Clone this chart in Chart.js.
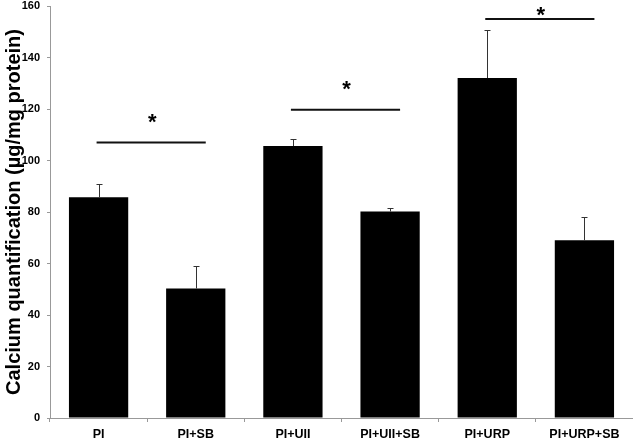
<!DOCTYPE html>
<html>
<head>
<meta charset="utf-8">
<script src="https://cdn.jsdelivr.net/npm/chart.js@4"></script>
<style>
  html, body { margin: 0; padding: 0; background: #fff; }
  #wrap { width: 633px; height: 440px; }
</style>
</head>
<body>
<div id="wrap"><canvas id="c"></canvas></div>
<script>
// ---- data ----
const categories = ['PI', 'PI+SB', 'PI+UII', 'PI+UII+SB', 'PI+URP', 'PI+URP+SB'];
const means      = [85.7, 50.3, 105.6, 80.2, 132.0, 69.0];
const errors     = [5.0, 8.7, 2.9, 1.2, 18.8, 9.0];
const yTicks     = [0, 20, 40, 60, 80, 100, 120, 140, 160];
const sigFrom    = [0, 2, 4];
const sigTo      = [1, 3, 5];
const sigLevel   = [107, 119.7, 155];
const sigMark    = ['*', '*', '*'];
const yTitle     = 'Calcium quantification (µg/mg protein)';

const FONT = '"Liberation Sans", Arial, sans-serif';

const errorBars = {
  id: 'errorBars',
  afterDatasetsDraw(chart) {
    const ctx = chart.ctx;
    const meta = chart.getDatasetMeta(0);
    const y = chart.scales.y;
    ctx.save();
    ctx.strokeStyle = '#333';
    ctx.lineWidth = 1;
    meta.data.forEach((bar, i) => {
      const x = Math.round(bar.x) + 0.5;
      const yTop = Math.round(y.getPixelForValue(means[i] + errors[i])) + 0.5;
      const yBase = y.getPixelForValue(means[i]);
      ctx.beginPath();
      ctx.moveTo(x, yBase);
      ctx.lineTo(x, yTop);
      ctx.moveTo(x - 3, yTop);
      ctx.lineTo(x + 3, yTop);
      ctx.stroke();
    });
    ctx.restore();
  }
};

const significance = {
  id: 'significance',
  afterDatasetsDraw(chart) {
    const ctx = chart.ctx;
    const xs = chart.scales.x, ys = chart.scales.y;
    ctx.save();
    ctx.strokeStyle = '#111';
    ctx.lineWidth = 2;
    ctx.fillStyle = '#000';
    ctx.font = 'bold 22px ' + FONT;
    ctx.textAlign = 'center';
    ctx.textBaseline = 'middle';
    sigFrom.forEach((a, k) => {
      const x0 = xs.getPixelForValue(a) - 2;
      const x1 = xs.getPixelForValue(sigTo[k]) + 10;
      const yy = ys.getPixelForValue(sigLevel[k]);
      ctx.beginPath();
      ctx.moveTo(x0, yy);
      ctx.lineTo(x1, yy);
      ctx.stroke();
      const ty = Math.max(yy - 24, 12);
      ctx.fillText(sigMark[k], (x0 + x1) / 2 + 1, ty + 4);
    });
    ctx.restore();
  }
};

new Chart(document.getElementById('c'), {
  type: 'bar',
  data: {
    labels: categories,
    datasets: [{
      data: means,
      backgroundColor: '#000',
      borderWidth: 0,
      categoryPercentage: 1.0,
      barPercentage: 0.61
    }]
  },
  options: {
    responsive: true,
    maintainAspectRatio: false,
    animation: false,
    layout: { padding: 0 },
    plugins: {
      legend: { display: false },
      tooltip: { enabled: false }
    },
    scales: {
      x: {
        afterFit(s) { s.height = 22; s.paddingLeft = 0; s.paddingRight = 0; },
        grid: {
          display: true, drawOnChartArea: false, drawTicks: true,
          tickLength: 4, color: '#999', offset: true
        },
        border: { display: true, color: '#999', width: 1 },
        ticks: {
          color: '#000', padding: 5,
          font: { family: FONT, size: 12.5, weight: 'bold' },
          maxRotation: 0, autoSkip: false
        }
      },
      y: {
        min: 0, max: 160,
        afterFit(s) { s.width = 50; s.paddingTop = 6; s.paddingBottom = 0; },
        afterBuildTicks(s) { s.ticks = yTicks.map(v => ({ value: v })); },
        grid: {
          display: true, drawOnChartArea: false, drawTicks: true,
          tickLength: 3, color: '#999'
        },
        border: { display: true, color: '#999', width: 1 },
        ticks: {
          color: '#000', padding: 7,
          font: { family: FONT, size: 11, weight: 'bold' }
        },
        title: {
          display: true, text: yTitle, color: '#000',
          font: { family: FONT, size: 20, weight: 'bold' },
          padding: { top: 2, bottom: 0 }
        }
      }
    }
  },
  plugins: [errorBars, significance]
});
</script>
</body>
</html>
